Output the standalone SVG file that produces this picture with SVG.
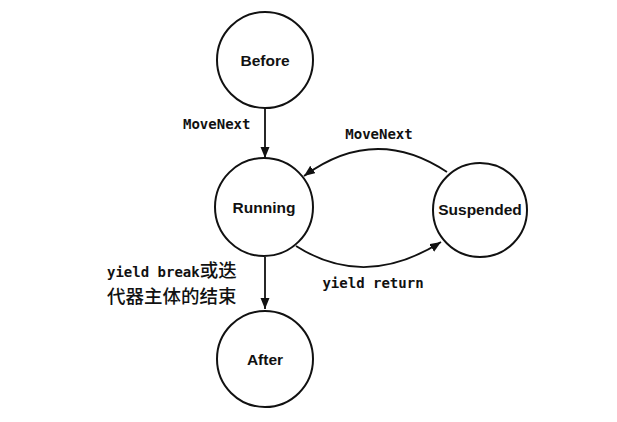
<svg xmlns="http://www.w3.org/2000/svg" width="617" height="422" viewBox="0 0 617 422">
<style>
.node{fill:#fff;stroke:#111;stroke-width:2}
.nl{font-family:"Liberation Sans",Arial,sans-serif;font-weight:bold;font-size:15.5px;fill:#111;text-anchor:middle}
.el{font-family:"DejaVu Sans Mono","Liberation Mono",monospace;font-weight:bold;font-size:14px;fill:#111}
.cjk{font-family:"Noto Sans CJK SC",sans-serif;font-weight:500;font-size:18.5px}
.edge{fill:none;stroke:#111;stroke-width:1.8}
</style>
<defs>
<marker id="ah" markerUnits="userSpaceOnUse" markerWidth="12" markerHeight="10" refX="11" refY="4.5" orient="auto">
<path d="M0,0 L11,4.5 L0,9 z" fill="#111"/>
</marker>
</defs>
<rect width="617" height="422" fill="#fff"/>
<g id="connectors">
<path class="edge" d="M265,108 L265,158" marker-end="url(#ah)"/>
<path class="edge" d="M265,257 L265,309" marker-end="url(#ah)"/>
<path class="edge" d="M447,172 Q375,124 304,176" marker-end="url(#ah)"/>
<path class="edge" d="M296,246 Q365,290 441,242" marker-end="url(#ah)"/>
<text class="el" x="183" y="129">MoveNext</text>
<text class="el" x="379" y="139" text-anchor="middle">MoveNext</text>
<text class="el" x="373" y="288" text-anchor="middle">yield return</text>
<text class="el" x="107" y="277">yield break<tspan class="cjk">或迭</tspan></text>
<text class="el cjk" x="107" y="303">代器主体的结束</text>
</g>
<g id="before"><circle class="node" cx="265" cy="60" r="48"/><text class="nl" x="265" y="66">Before</text></g>
<g id="running"><circle class="node" cx="264" cy="207" r="49"/><text class="nl" x="264" y="213">Running</text></g>
<g id="suspended"><circle class="node" cx="480" cy="210" r="47"/><text class="nl" x="480" y="215">Suspended</text></g>
<g id="after"><circle class="node" cx="265" cy="359" r="48"/><text class="nl" x="265" y="365">After</text></g>
</svg>
